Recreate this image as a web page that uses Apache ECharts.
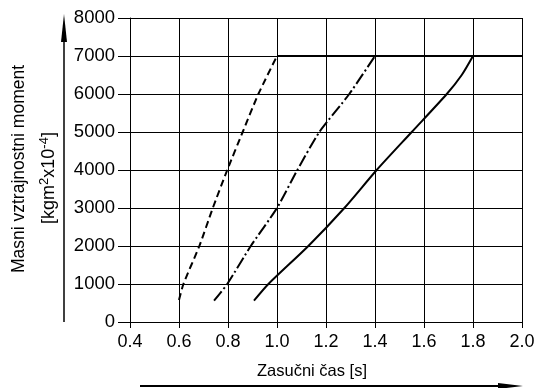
<!DOCTYPE html>
<html>
<head>
<meta charset="utf-8">
<script src="https://cdn.jsdelivr.net/npm/echarts@6/dist/echarts.min.js"></script>
<style>
html,body{margin:0;padding:0;background:#fff;}
#chart{width:542px;height:388px;}
</style>
</head>
<body>
<div id="chart"></div>
<script>
// Data
const dashedX = [0.6, 0.618, 0.683, 0.738, 0.797, 0.86, 0.924, 1.0];
const dashedY = [580, 1000, 2000, 3000, 4000, 5000, 6000, 7000];
const dashDotX = [0.743, 0.797, 0.893, 1.0, 1.083, 1.173, 1.295, 1.4];
const dashDotY = [560, 1000, 2000, 3000, 4000, 5000, 6000, 7000];
const solidX = [0.906, 0.965, 1.128, 1.275, 1.407, 1.55, 1.693, 1.754, 1.8];
const solidY = [560, 1000, 2000, 3000, 4000, 5000, 6000, 6500, 7000];
const limitX = [1.0, 2.0];
const limitY = [7000, 7000];
const xTitle = 'Zasučni čas [s]';
const yTitle1 = 'Masni vztrajnostni moment';
const yTitle2 = '{m|[kgm}{s|2}{m|x10}{s|-4}{m|]}';

function pairs(xs, ys) { return xs.map((x, i) => [x, ys[i]]); }

const font = 'Liberation Sans';
const chart = echarts.init(document.getElementById('chart'), null, {renderer: 'canvas'});
chart.setOption({
  animation: false,
  backgroundColor: '#fff',
  grid: {left: 130, right: 20, top: 18, bottom: 66},
  xAxis: {
    type: 'value', min: 0.4, max: 2.0, interval: 0.2,
    axisLine: {show: true, lineStyle: {color: '#000', width: 1}},
    axisTick: {show: true, length: 6, lineStyle: {color: '#000'}},
    axisLabel: {color: '#000', fontFamily: font, fontSize: 18, margin: 11,
      formatter: v => v.toFixed(1)},
    splitLine: {show: true, lineStyle: {color: '#000', width: 1}}
  },
  yAxis: {
    type: 'value', min: 0, max: 8000, interval: 1000,
    axisLine: {show: true, lineStyle: {color: '#000', width: 1}},
    axisTick: {show: true, length: 12, lineStyle: {color: '#000'}},
    axisLabel: {color: '#000', fontFamily: font, fontSize: 18.5, margin: 15,
      formatter: v => String(v)},
    splitLine: {show: true, lineStyle: {color: '#000', width: 1}}
  },
  series: [
    {type: 'line', data: pairs(dashedX, dashedY), symbol: 'none', smooth: 0.2,
     lineStyle: {color: '#000', width: 2, type: [7, 4]}},
    {type: 'line', data: pairs(dashDotX, dashDotY), symbol: 'none', smooth: 0.2,
     lineStyle: {color: '#000', width: 2, type: [12, 3, 2, 3]}},
    {type: 'line', data: pairs(solidX, solidY), symbol: 'none', smooth: 0.25,
     lineStyle: {color: '#000', width: 2}},
    {type: 'line', data: pairs(limitX, limitY), symbol: 'none',
     lineStyle: {color: '#000', width: 2}}
  ],
  graphic: [
    {type: 'text', x: 19, y: 169, rotation: Math.PI / 2,
     style: {text: yTitle1, font: '17.5px "Liberation Sans"', fill: '#000', align: 'center', verticalAlign: 'middle'}},
    {type: 'text', x: 48, y: 178, rotation: Math.PI / 2,
     style: {text: yTitle2, fill: '#000', align: 'center', verticalAlign: 'middle',
       rich: {
         m: {fontFamily: font, fontSize: 18, lineHeight: 20, verticalAlign: 'bottom'},
         s: {fontFamily: font, fontSize: 13, lineHeight: 20, verticalAlign: 'top'}
       }}},
    {type: 'text', x: 312, y: 371,
     style: {text: xTitle, font: '16.5px "Liberation Sans"', fill: '#000', align: 'center', verticalAlign: 'middle'}},
    {type: 'line', shape: {x1: 64, y1: 322, x2: 64, y2: 38}, style: {stroke: '#000', lineWidth: 1.5}},
    {type: 'polygon', shape: {points: [[64, 14], [61, 42], [67, 42]]}, style: {fill: '#000'}},
    {type: 'line', shape: {x1: 140, y1: 386, x2: 502, y2: 386}, style: {stroke: '#000', lineWidth: 2}},
    {type: 'polygon', shape: {points: [[523, 386], [498, 383], [498, 389]]}, style: {fill: '#000'}}
  ]
});
</script>
</body>
</html>
